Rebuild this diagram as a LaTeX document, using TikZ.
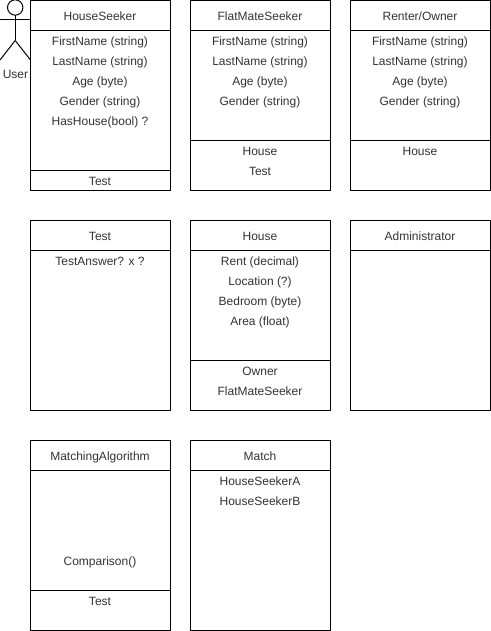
\documentclass[tikz,border=0pt]{standalone}
\usepackage{fontspec}
\setmainfont{Liberation Sans}
\tikzset{
 box/.style={draw=black,line width=0.75pt,fill=white,minimum width=105pt,minimum height=142.5pt,inner sep=0pt,outer sep=0pt,anchor=north west},
 lbl/.style={font=\fontsize{9}{11}\selectfont,text=black!80,inner sep=0pt,outer sep=0pt,anchor=base},
 stick/.style={draw=black,line width=0.75pt}
}
\begin{document}
\begin{tikzpicture}[x=0.75pt,y=-0.75pt]
\useasboundingbox (0,0) rectangle (491,631);
\fill[white] (0,0) rectangle (491,631);
\newcommand{\umlbox}[5]{% name x y headh divider
 \node[box] (#1) at (#2,#3) {};
 \coordinate (#1l) at (#2,#3+#4); \coordinate (#1r) at (#2+140,#3+#4);
 \draw[line width=0.75pt] (#1l) -- (#1r);
 \ifnum#5>0 \coordinate (#1dl) at (#2,#3+#5); \coordinate (#1dr) at (#2+140,#3+#5); \draw[line width=0.75pt] (#1dl) -- (#1dr);\fi
}
\umlbox{hs}{30.5}{0.5}{30}{170}
\umlbox{fm}{190.5}{0.5}{30}{140}
\umlbox{ro}{350.5}{0.5}{30}{140}
\umlbox{te}{30.5}{220.5}{30}{0}
\umlbox{ho}{190.5}{220.5}{30}{140}
\umlbox{ad}{350.5}{220.5}{30}{0}
\umlbox{ma}{30.5}{440.5}{30}{150}
\umlbox{mt}{190.5}{440.5}{30}{0}
\newcommand{\tl}[3]{\node[lbl] (t#1#2) at (#1,#2+4.5) {#3};}
\tl{100}{16}{HouseSeeker}\tl{100}{41}{FirstName (string)}\tl{100}{61}{LastName (string)}\tl{100}{81}{Age (byte)}\tl{100}{101}{Gender (string)}\tl{100}{121}{HasHouse(bool) ?}\tl{100}{181}{Test}
\tl{260}{16}{FlatMateSeeker}\tl{260}{41}{FirstName (string)}\tl{260}{61}{LastName (string)}\tl{260}{81}{Age (byte)}\tl{260}{101}{Gender (string)}\tl{260}{151}{House}\tl{260}{171}{Test}
\tl{420}{16}{Renter/Owner}\tl{420}{41}{FirstName (string)}\tl{420}{61}{LastName (string)}\tl{420}{81}{Age (byte)}\tl{420}{101}{Gender (string)}\tl{420}{151}{House}
\tl{100}{236}{Test}\tl{100}{261}{TestAnswer? x ?}
\tl{260}{236}{House}\tl{260}{261}{Rent (decimal)}\tl{260}{281}{Location (?)}\tl{260}{301}{Bedroom (byte)}\tl{260}{321}{Area (float)}\tl{260}{371}{Owner}\tl{260}{391}{FlatMateSeeker}
\tl{420}{236}{Administrator}
\tl{100}{456}{MatchingAlgorithm}\tl{100}{561}{Comparison()}\tl{100}{601}{Test}
\tl{260}{456}{Match}\tl{260}{481}{HouseSeekerA}\tl{260}{501}{HouseSeekerB}
% actor
\draw[stick] (15.2,7.5) circle (7.7);
\draw[stick] (15.2,15.2) -- (15.2,40.5);
\draw[stick] (0,20) -- (30.5,20);
\draw[stick] (15.2,40.5) -- (0,60);
\draw[stick] (15.2,40.5) -- (30.5,60);
\tl{15.5}{74}{User}
\end{tikzpicture}
\end{document}
